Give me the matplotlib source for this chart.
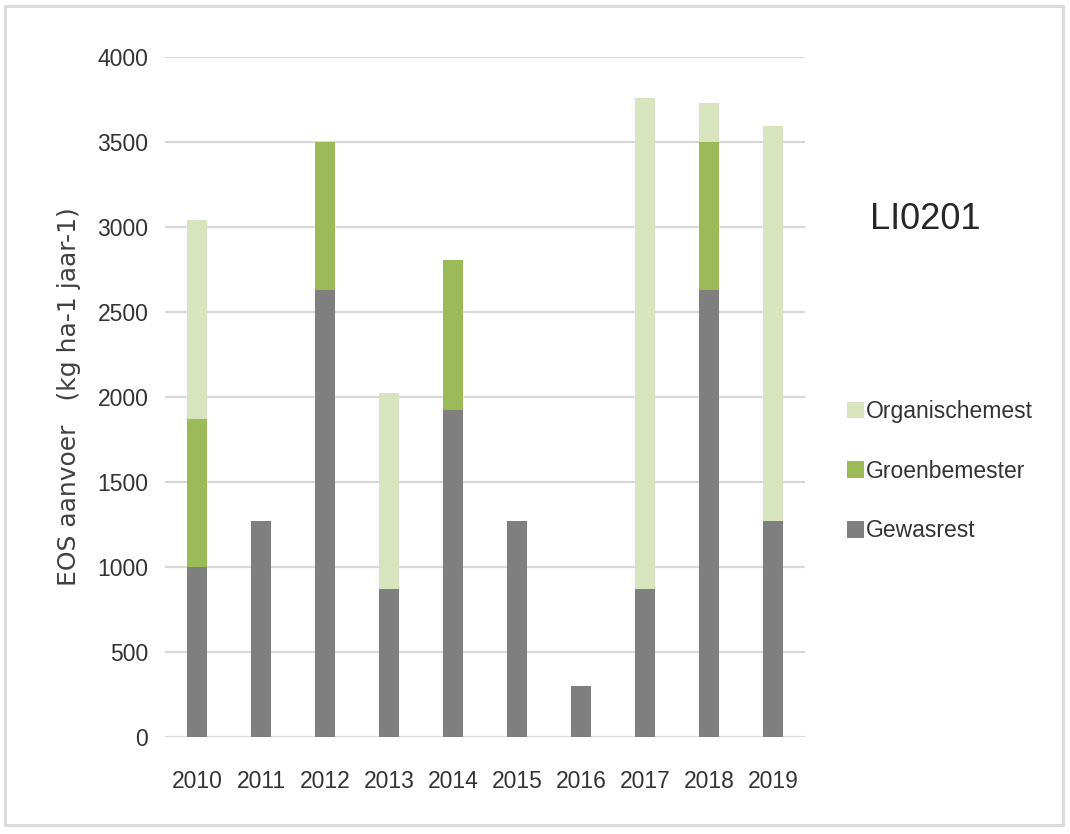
import matplotlib
matplotlib.use("Agg")
import matplotlib.pyplot as plt
import numpy as np
from matplotlib import font_manager
from matplotlib.patches import Rectangle

names = {f.name for f in font_manager.fontManager.ttflist}
narrow = 'Liberation Sans Narrow' if 'Liberation Sans Narrow' in names else 'Liberation Sans'

# data
jaren = ['2010', '2011', '2012', '2013', '2014', '2015', '2016', '2017', '2018', '2019']
gewasrest = [1000, 1270, 2630, 870, 1925, 1270, 300, 870, 2630, 1270]
groenbemester = [870, 0, 870, 0, 880, 0, 0, 0, 870, 0]
organische_mest = [1170, 0, 0, 1155, 0, 0, 0, 2890, 230, 2325]

c_grijs = '#7f7f7f'
c_groen = '#9bbb59'
c_licht = '#d7e4bd'

fig = plt.figure(figsize=(10.7, 8.34), dpi=100)
ax = fig.add_axes([0.1542, 0.1163, 0.598, 0.8154])

x = np.arange(len(jaren))
w = 0.31
b1 = ax.bar(x, gewasrest, w, color=c_grijs, zorder=3)
b2 = ax.bar(x, groenbemester, w, bottom=gewasrest, color=c_groen, zorder=3)
bodem = np.array(gewasrest) + np.array(groenbemester)
b3 = ax.bar(x, organische_mest, w, bottom=bodem, color=c_licht, zorder=3)

ax.set_xlim(-0.5, len(jaren) - 0.5)
ax.set_ylim(0, 4000)
ax.set_yticks(np.arange(0, 4001, 500))
ax.set_xticks(x)
ax.set_xticklabels(jaren)
ax.grid(axis='y', color='#d9d9d9', linewidth=1.6, zorder=0)
for s in ax.spines.values():
    s.set_visible(False)
ax.tick_params(length=0, labelsize=16.5, labelcolor='#333333', pad=12)
ax.tick_params(axis='x', pad=24)
for t in ax.get_xticklabels() + ax.get_yticklabels():
    t.set_fontfamily(narrow)

ax.set_ylabel('EOS aanvoer   (kg ha-1 jaar-1)', fontsize=18, color='#404040',
              family='DejaVu Sans', labelpad=12)

fig.text(0.8135, 0.737, 'LI0201', fontsize=26, family=narrow, color='#262626',
         va='center', ha='left')

leg = fig.legend([b3, b2, b1], ['Organischemest', 'Groenbemester', 'Gewasrest'],
                 loc='upper left', bbox_to_anchor=(0.772, 0.545), frameon=False,
                 prop={'family': narrow, 'size': 16.5}, handlelength=0.75,
                 handleheight=0.75, handletextpad=0.1, labelspacing=1.6,
                 labelcolor='#333333')

# outer border of the chart
fig.patches.append(Rectangle((0.005, 0.011), 0.988, 0.982, transform=fig.transFigure,
                             fill=False, edgecolor='#d9d9d9', linewidth=2))

fig.savefig('out.png', dpi=100)
